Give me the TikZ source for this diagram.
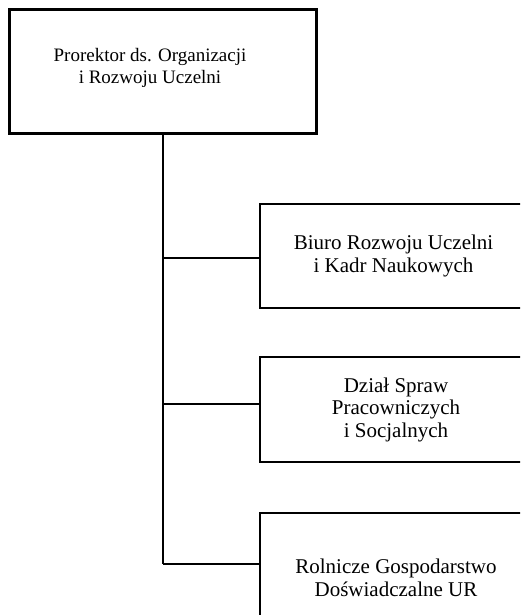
\documentclass[tikz,border=0pt]{standalone}
\usepackage{fontspec}
\setmainfont{Liberation Serif}
\usetikzlibrary{positioning}

\begin{document}
\begin{tikzpicture}[x=1pt, y=-1pt,
						% styles for the boxes and the lines
						head box/.style={rectangle, draw, line width=3pt, inner sep=0pt},
						unit box/.style={rectangle, draw, line width=1.6pt, inner sep=0pt, align=center, font=\fontsize{21}{22.5}\selectfont},
						box text/.style={align=center, inner sep=0pt, font=\fontsize{19}{22}\selectfont},
						link/.style={line width=1.6pt}
						]
						\useasboundingbox (0,0) rectangle (520,615);
						\clip (0,0) rectangle (520,615);
						
						% Head of the chart
						\node[head box, minimum width=307pt, minimum height=123pt] (head) at (163,71.5) {};
						\node[box text] (headtext) at (150,68) {Prorektor ds. Organizacji\\i Rozwoju Uczelni};
						
						% Units (right sides run off the page)
						\node[unit box, minimum width=267pt, minimum height=104pt] (biuro) at (393.5,256) {Biuro Rozwoju Uczelni\\i Kadr Naukowych};
						\node[unit box, minimum width=272pt, minimum height=105pt] (dzial) at (396,409.5) {Dział Spraw\\Pracowniczych\\i Socjalnych};
						\node[unit box, minimum width=272pt, minimum height=130pt] (rgd) at (396,578) {Rolnicze Gospodarstwo\\Doświadczalne UR};
						
						% --- Draw the lines ---
						\coordinate (fork1) at (163,258);
						\coordinate (fork2) at (163,404);
						\coordinate (fork3) at (163,564);
						\draw[link] (head.south) -- (fork3);
						\draw[link] (fork1) -- (fork1 -| biuro.west);
						\draw[link] (fork2) -- (fork2 -| dzial.west);
						\draw[link] (fork3) -- (fork3 -| rgd.west);
					\end{tikzpicture}
\end{document}
